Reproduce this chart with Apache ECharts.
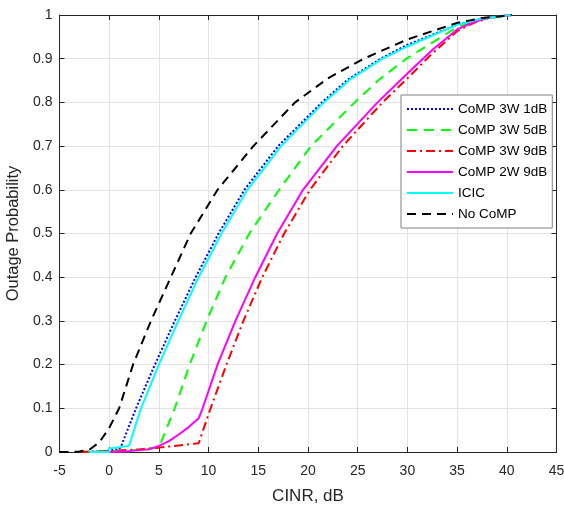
<!DOCTYPE html>
<html>
<head>
<meta charset="utf-8">
<script src="https://cdn.jsdelivr.net/npm/echarts@6/dist/echarts.min.js"></script>
<style>html,body{margin:0;padding:0;background:#fff;}#c{width:564px;height:506px;}</style>
</head>
<body>
<div id="c"></div>
<script>
// ---- data ----
var xTicks = [-5, 0, 5, 10, 15, 20, 25, 30, 35, 40, 45];
var yTicks = [0, 0.1, 0.2, 0.3, 0.4, 0.5, 0.6, 0.7, 0.8, 0.9, 1];
var seriesNames = ['CoMP 3W 1dB', 'CoMP 3W 5dB', 'CoMP 3W 9dB', 'CoMP 2W 9dB', 'ICIC', 'No CoMP'];

var comp3w1X = [-3, -1, 0, 1, 1.2, 2.7, 4.6, 6.6, 8.7, 11.0, 13.6, 17.0, 21.4, 24.0, 27.3, 30, 35, 37.5, 40.5];
var comp3w1Y = [0, 0.001, 0.003, 0.007, 0.013, 0.1, 0.2, 0.3, 0.4, 0.5, 0.6, 0.7, 0.8, 0.852, 0.9, 0.932, 0.978, 0.992, 1];

var comp3w5X = [-3, 0, 3, 5, 6.6, 8.1, 9.8, 11.7, 14.1, 17.1, 20.3, 24.7, 27.2, 29.9, 35, 37.5, 40.5];
var comp3w5Y = [0, 0.002, 0.005, 0.01, 0.1, 0.2, 0.3, 0.4, 0.5, 0.6, 0.7, 0.8, 0.853, 0.9, 0.972, 0.99, 1];

var comp3w9X = [-3, 0, 3, 5, 7, 9, 10.2, 11.8, 13.5, 15.4, 17.6, 20.2, 23.5, 27.5, 30, 32.5, 35, 36.7, 38.3, 40.5];
var comp3w9Y = [0, 0.002, 0.006, 0.01, 0.015, 0.02, 0.1, 0.2, 0.3, 0.4, 0.5, 0.6, 0.7, 0.8, 0.855, 0.912, 0.963, 0.982, 0.994, 1];

var comp2w9X = [-2, 0, 2, 4, 5, 6, 7, 8, 9, 9.4, 10.9, 12.7, 14.7, 16.9, 19.5, 22.9, 27.0, 30, 32.5, 35, 36.7, 38.3, 40.5];
var comp2w9Y = [0, 0, 0.002, 0.006, 0.014, 0.025, 0.04, 0.057, 0.077, 0.1, 0.2, 0.3, 0.4, 0.5, 0.6, 0.7, 0.8, 0.866, 0.92, 0.967, 0.984, 0.995, 1];

var icicX = [-2, 0, 0, 2, 3.2, 5.0, 6.95, 9.0, 11.3, 13.9, 17.3, 21.6, 24.2, 27.5, 30, 35, 37.5, 40.5];
var icicY = [0, 0, 0.008, 0.014, 0.1, 0.2, 0.3, 0.4, 0.5, 0.6, 0.7, 0.8, 0.852, 0.9, 0.928, 0.978, 0.992, 1];

var noCompX = [-5, -4, -3, -2, -1, 0, 1, 2.4, 4.2, 6.2, 8.2, 10.9, 14.5, 18.7, 22.0, 25.6, 30, 35, 37.5, 40.5];
var noCompY = [0, 0, 0.001, 0.005, 0.022, 0.055, 0.1, 0.2, 0.3, 0.4, 0.5, 0.6, 0.7, 0.8, 0.855, 0.9, 0.944, 0.982, 0.993, 1];

function pairs(xs, ys) { return xs.map(function (x, i) { return [x, ys[i]]; }); }

var textColor = '#262626';
var axisColor = '#262626';
var gridColor = '#e3e3e3';
var FONT = 'Liberation Sans, Arial, sans-serif';

function mkSeries(name, xs, ys, color, type) {
  return {
    name: name, type: 'line', data: pairs(xs, ys),
    symbol: 'none', showSymbol: false, smooth: false,
    lineStyle: { color: color, width: 2, type: type },
    itemStyle: { color: color },
    animation: false
  };
}

function sideAxis(pos, min, max, interval) {
  return {
    type: 'value', min: min, max: max, interval: interval, position: pos,
    axisLine: { show: true, onZero: false, lineStyle: { color: axisColor, width: 1 } },
    axisTick: { show: true, inside: true, length: 5, lineStyle: { color: axisColor } },
    axisLabel: { show: false }, splitLine: { show: false }
  };
}

var chart = echarts.init(document.getElementById('c'), null, { renderer: 'canvas' });
var option = {
  backgroundColor: '#fff',
  animation: false,
  grid: { left: 59.5, right: 7.5, top: 15, bottom: 54, containLabel: false, outerBoundsMode: 'none' },
  legend: {
    orient: 'vertical', left: 401, top: 95,
    itemWidth: 46, itemHeight: 14, itemGap: 7,
    padding: [7, 5, 7, 5],
    backgroundColor: '#fff', borderColor: '#808080', borderWidth: 1,
    itemStyle: { opacity: 0 },
    textStyle: { fontFamily: FONT, fontSize: 13.5, color: '#000' },
    data: seriesNames
  },
  xAxis: [{
    type: 'value', min: xTicks[0], max: xTicks[xTicks.length - 1], interval: 5, position: 'bottom',
    name: 'CINR, dB', nameLocation: 'middle', nameGap: 36,
    nameTextStyle: { fontFamily: FONT, fontSize: 17, color: textColor },
    axisLine: { show: true, onZero: false, lineStyle: { color: axisColor, width: 1 } },
    axisTick: { show: true, inside: true, length: 5, lineStyle: { color: axisColor } },
    axisLabel: { fontFamily: FONT, fontSize: 14, color: textColor, margin: 12 },
    splitLine: { show: true, lineStyle: { color: gridColor, width: 1 } }
  }, sideAxis('top', xTicks[0], xTicks[xTicks.length - 1], 5)],
  yAxis: [{
    type: 'value', min: yTicks[0], max: yTicks[yTicks.length - 1], interval: 0.1, position: 'left',
    name: 'Outage Probability', nameLocation: 'middle', nameGap: 31,
    nameTextStyle: { fontFamily: FONT, fontSize: 16.5, color: textColor },
    axisLine: { show: true, onZero: false, lineStyle: { color: axisColor, width: 1 } },
    axisTick: { show: true, inside: true, length: 5, lineStyle: { color: axisColor } },
    axisLabel: {
      fontFamily: FONT, fontSize: 14, color: textColor, margin: 7,
      formatter: function (v) { return (v === 0 || v === 1) ? String(v) : v.toFixed(1); }
    },
    splitLine: { show: true, lineStyle: { color: gridColor, width: 1 } }
  }, sideAxis('right', yTicks[0], yTicks[yTicks.length - 1], 0.1)],
  series: [
    mkSeries(seriesNames[0], comp3w1X, comp3w1Y, '#0000ff', [2, 2]),
    mkSeries(seriesNames[1], comp3w5X, comp3w5Y, '#00ff00', [10, 7]),
    mkSeries(seriesNames[2], comp3w9X, comp3w9Y, '#ff0000', [9, 4, 2, 4]),
    mkSeries(seriesNames[3], comp2w9X, comp2w9Y, '#ff00ff', 'solid'),
    mkSeries(seriesNames[4], icicX, icicY, '#00ffff', 'solid'),
    mkSeries(seriesNames[5], noCompX, noCompY, '#000000', [9, 6])
  ]
};
chart.setOption(option);
</script>
</body>
</html>
